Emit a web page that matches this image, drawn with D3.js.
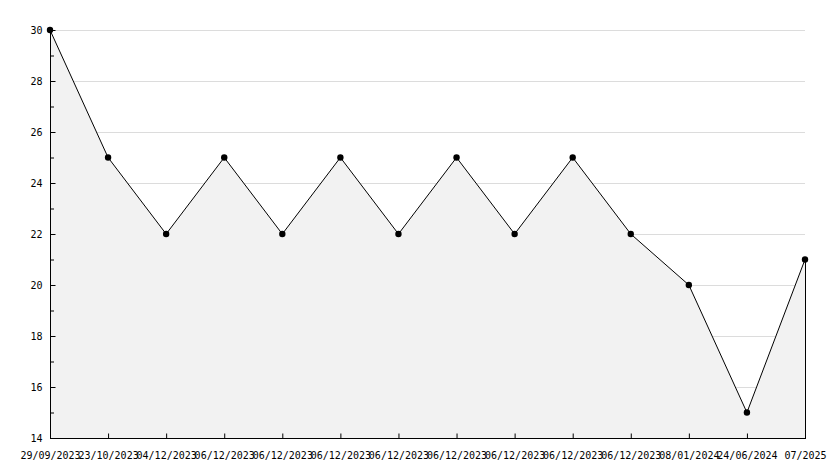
<!DOCTYPE html>
<html><head><meta charset="utf-8">
<script src="https://cdn.jsdelivr.net/npm/d3@7"></script>
<style>body{margin:0;background:#fff}svg{display:block}text{font-family:"DejaVu Sans Mono",monospace;font-size:10px;fill:#000}</style>
</head><body>
<script>
const labels = ["29/09/2023","23/10/2023","04/12/2023","06/12/2023","06/12/2023","06/12/2023","06/12/2023","06/12/2023","06/12/2023","06/12/2023","06/12/2023","08/01/2024","24/06/2024","07/2025"];
const values = [30,25,22,25,22,25,22,25,22,25,22,20,15,21];
const yTicks = [14,16,18,20,22,24,26,28,30];
const yMinor = [15,17,19,21,23,25,27,29];

const W=834,H=468, L=50, R=805, T=30, B=438;
const FONT="DejaVu Sans Mono";
const svg=d3.select("body").append("svg").attr("width",W).attr("height",H);
const x=d3.scaleLinear().domain([0,values.length-1]).range([L,R]);
const y=d3.scaleLinear().domain([14,30]).range([B,T]);

// grid
svg.append("g").selectAll("line").data(yTicks.slice(1)).join("line")
  .attr("x1",L).attr("x2",R).attr("y1",d=>y(d)+0.5).attr("y2",d=>y(d)+0.5)
  .attr("stroke","#dcdcdc").attr("stroke-width",1);

const data=values.map((v,i)=>({i,v}));
svg.append("path").datum(data)
  .attr("d",d3.area().x(d=>x(d.i)).y0(y(14)).y1(d=>y(d.v)))
  .attr("fill","#f2f2f2");
svg.append("path").datum(data)
  .attr("d",d3.line().x(d=>x(d.i)).y(d=>y(d.v)))
  .attr("fill","none").attr("stroke","#000").attr("stroke-width",1);
// right edge of area
svg.append("line").attr("x1",x(values.length-1)+0.5).attr("x2",x(values.length-1)+0.5)
  .attr("y1",y(values[values.length-1])).attr("y2",B).attr("stroke","#000");

// axes
const ya=svg.append("g").attr("transform",`translate(${L+0.5},0)`)
  .call(d3.axisRight(y).tickValues(yTicks).tickSize(5).tickFormat(d3.format("d")));
ya.select(".domain").remove();
ya.selectAll("text").attr("x",-8).attr("text-anchor","end").attr("dy","0.35em").style("font-size","10px").style("font-family",FONT);
ya.selectAll("line").attr("stroke","#000");
svg.append("g").selectAll("line").data(yMinor).join("line")
  .attr("x1",L).attr("x2",L+4).attr("y1",d=>y(d)+0.5).attr("y2",d=>y(d)+0.5).attr("stroke","#000");
svg.append("line").attr("x1",L+0.5).attr("x2",L+0.5).attr("y1",T).attr("y2",B+0.5).attr("stroke","#000");

const xa=svg.append("g").attr("transform",`translate(0,${B+0.5})`)
  .call(d3.axisTop(x).tickValues(d3.range(values.length)).tickSize(5).tickFormat(i=>labels[i]));
xa.select(".domain").remove();
xa.selectAll("line").attr("stroke","#000");
xa.selectAll("text").attr("y",13).attr("dy","0.71em").attr("text-anchor","middle").style("font-size","10px").style("font-family",FONT);
svg.append("line").attr("x1",L).attr("x2",R+1).attr("y1",B+0.5).attr("y2",B+0.5).attr("stroke","#000");

// markers
svg.append("g").selectAll("circle").data(data).join("circle")
  .attr("cx",d=>x(d.i)).attr("cy",d=>y(d.v)).attr("r",3.2).attr("fill","#000");
</script>
</body></html>
